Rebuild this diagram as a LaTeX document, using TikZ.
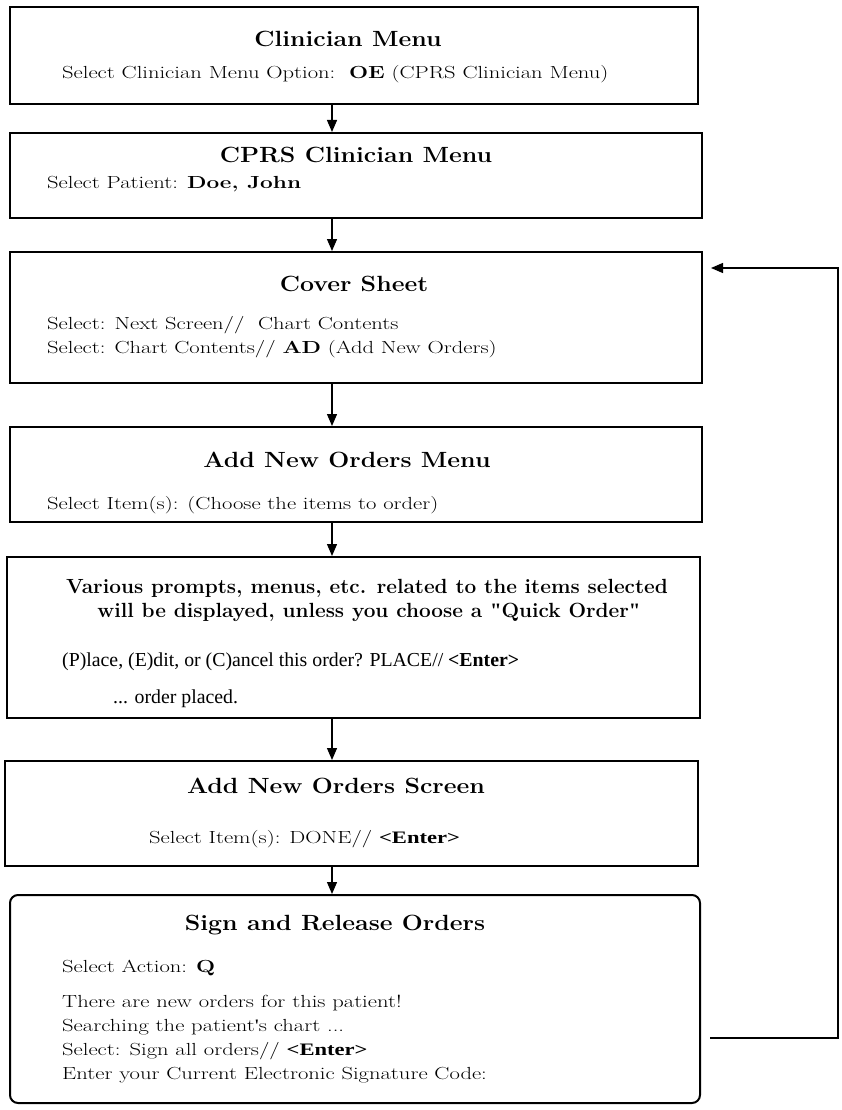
\documentclass[tikz,border=0pt]{standalone}
\usepackage{fontspec}
\newfontfamily\timesf{Liberation Serif}
\newfontfamily\quotef{Liberation Serif}[Ligatures=TeXOff]
\usetikzlibrary{arrows.meta}
\newcommand{\wideR}[1]{\scalebox{1.29}[1]{#1}}
\newcommand{\wideT}[1]{\scalebox{1.13}[1]{#1}}
\newcommand{\wideQ}[1]{\scalebox{1.015}[1]{#1}}
\newcommand{\sq}{{\quotef\bfseries\symbol{34}}}
\newcommand{\apos}{{\quotef\symbol{39}}}
\begin{document}
\begin{tikzpicture}[x=1pt,y=-1pt,
  box/.style={draw, line width=2pt, inner sep=0pt},
  rbox/.style={draw, line width=2pt, inner sep=0pt, rounded corners=8pt},
  arr/.style={-{Triangle[length=12pt,width=10pt]}, line width=1.3pt},
  ttl/.style={anchor=base, inner sep=0pt, font=\fontsize{22}{26}\bfseries\selectfont},
  ttlq/.style={anchor=base, inner sep=0pt, font=\fontsize{20.5}{24}\bfseries\selectfont},
  txt/.style={anchor=base west, inner sep=0pt, font=\fontsize{17.5}{20}\selectfont},
  txtt/.style={anchor=base west, inner sep=0pt, font=\timesf\fontsize{19.8}{22}\selectfont}]
\useasboundingbox (0,0) rectangle (841,1110);
\coordinate (ax) at (332,0);
% boxes
\node[box, minimum width=688pt, minimum height=97pt] (b1) at (354,55.5) {};
\node[box, minimum width=692pt, minimum height=85pt] (b2) at (356,175.5) {};
\node[box, minimum width=692pt, minimum height=131pt] (b3) at (356,317.5) {};
\node[box, minimum width=692pt, minimum height=95pt] (b4) at (356,474.5) {};
\node[box, minimum width=693pt, minimum height=161pt] (b5) at (353.5,637.5) {};
\node[box, minimum width=693pt, minimum height=105pt] (b6) at (351.5,813.5) {};
\node[rbox, minimum width=690pt, minimum height=208pt] (b7) at (355,999) {};
% texts
\node[ttl] (t1) at (348,47) {\wideT{Clinician Menu}};
\node[txt] (l1) at (62,79) {\wideR{Select Clinician Menu Option:\ \ \textbf{OE} (CPRS Clinician Menu)}};
\node[ttl] (t2) at (356,163) {\wideT{CPRS Clinician Menu}};
\node[txt] (l2) at (47,189) {\wideR{Select Patient: \textbf{Doe, John}}};
\node[ttl] (t3) at (354,291) {\wideT{Cover Sheet}};
\node[txt] (l3a) at (47,329) {\wideR{Select: Next Screen//\ \ Chart Contents}};
\node[txt] (l3b) at (47,353) {\wideR{Select: Chart Contents// \textbf{AD} (Add New Orders)}};
\node[ttl] (t4) at (347,467) {\wideT{Add New Orders Menu}};
\node[txt] (l4) at (47,509) {\wideR{Select Item(s): (Choose the items to order)}};
\node[ttlq] (t5a) at (367,593) {\wideQ{Various prompts, menus, etc. related to the items selected}};
\node[ttlq] (t5b) at (369,617) {\wideQ{will be displayed, unless you choose a \sq Quick Order\sq}};
\node[txtt] (l5a) at (62,666) {(P)lace, (E)dit, or (C)ancel this order? PLACE// \textbf{<Enter>}};
\node[txtt] (l5b) at (113,703) {... order placed.};
\node[ttl] (t6) at (336,793) {\wideT{Add New Orders Screen}};
\node[txt] (l6) at (149,843) {\wideR{Select Item(s): DONE// {\timesf\bfseries <Enter>}}};
\node[ttl] (t7) at (335,930) {\wideT{Sign and Release Orders}};
\node[txt] (l7a) at (62,972) {\wideR{Select Action: \textbf{Q}}};
\node[txt] (l7b) at (62,1007) {\wideR{There are new orders for this patient!}};
\node[txt] (l7c) at (62,1031) {\wideR{Searching the patient\apos s chart ...}};
\node[txt] (l7d) at (62,1055) {\wideR{Select: Sign all orders// {\timesf\bfseries <Enter>}}};
\node[txt] (l7e) at (62,1079) {\wideR{Enter your Current Electronic Signature Code:}};
% arrows
\draw[arr] (b1.south -| ax) -- (b2.north -| ax);
\draw[arr] (b2.south -| ax) -- (b3.north -| ax);
\draw[arr] (b3.south -| ax) -- (b4.north -| ax);
\draw[arr] (b4.south -| ax) -- (b5.north -| ax);
\draw[arr] (b5.south -| ax) -- (b6.north -| ax);
\draw[arr] (b6.south -| ax) -- (b7.north -| ax);
% feedback loop
\coordinate (fs) at (710,1038);
\coordinate (fr) at (838,1038);
\coordinate (fe) at (711,268);
\draw[arr] (fs) -- (fr) -- (fr |- fe) -- (fe);
\end{tikzpicture}
\end{document}
